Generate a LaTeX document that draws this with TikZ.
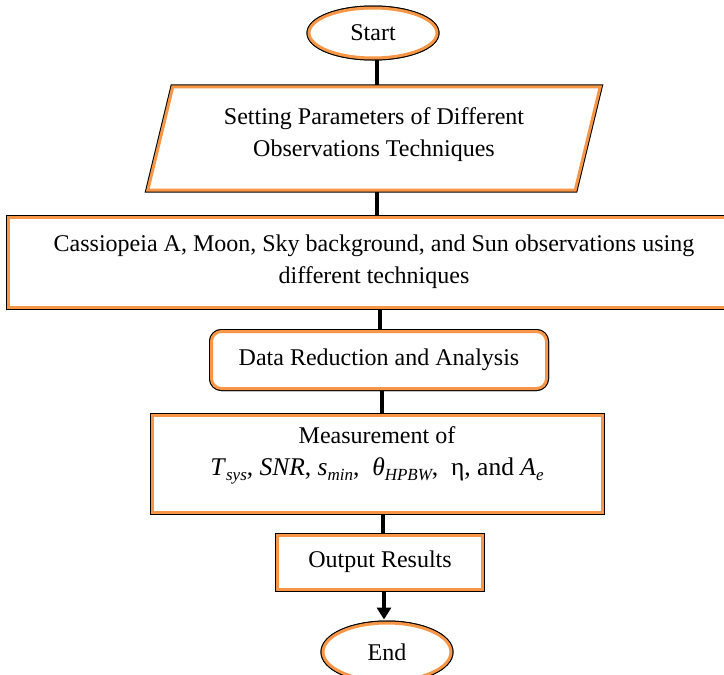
\documentclass[tikz,border=0pt]{standalone}
\usepackage{fontspec}
\setmainfont{Liberation Serif}
\usetikzlibrary{shapes.geometric,arrows.meta}
\definecolor{boxorange}{HTML}{F79646}
\newcommand{\mysub}[1]{\raisebox{-0.22em}{\fontsize{17}{17}\selectfont\itshape #1}}
\tikzset{
  frame/.style={fill=white, draw=boxorange, line width=3pt,
    preaction={draw=black, line width=5pt}},
  boxtext/.style={align=center, inner sep=0pt,
    font=\fontsize{24}{32}\selectfont},
  flowbox/.style={frame, boxtext, rectangle},
  roundbox/.style={frame, boxtext, rectangle, rounded corners=10pt},
  termbox/.style={frame, boxtext, ellipse},
  link/.style={draw=black, line width=3.6pt},
  arrowlink/.style={link, -{Triangle[length=12pt,width=14pt]}}
}
\begin{document}
\begin{tikzpicture}[x=1pt,y=-1pt]
\useasboundingbox (0,0) rectangle (724,675);
% placement nodes
\node[termbox, minimum width=128pt, minimum height=50pt] (start) at (373,33) {Start};
\node[boxtext, minimum width=452pt, minimum height=103pt] (par) at (374,138.5) {};
\node[flowbox, minimum width=732pt, minimum height=90pt] (obs) at (374,262) {};
\node[roundbox, minimum width=335pt, minimum height=57pt] (data) at (379,360) {};
\node[flowbox, minimum width=450pt, minimum height=97pt] (meas) at (377,463.5) {};
\node[flowbox, minimum width=205pt, minimum height=54pt] (out) at (380,562) {};
\node[termbox, minimum width=128pt, minimum height=58pt] (end) at (387,652) {};
% connectors
\draw[link] ([xshift=4pt]start.south) -- ([xshift=4pt]start.south |- par.north);
\draw[link] (377,190) coordinate (p1) -- (p1 |- obs.north);
\draw[link] ([xshift=6pt]obs.south) -- ([xshift=6pt]obs.south |- data.north);
\draw[link] ([xshift=3pt]data.south) -- ([xshift=3pt]data.south |- meas.north);
\draw[link] ([xshift=6pt]meas.south) -- ([xshift=6pt]meas.south |- out.north);
% boxes on top
\draw[frame] ([xshift=25pt]par.north west) -- (par.north east) -- ([xshift=-25pt]par.south east) -- (par.south west) -- cycle;
\node[termbox, minimum width=128pt, minimum height=50pt] at (start) {Start};
\node[flowbox, minimum width=732pt, minimum height=90pt] at (obs) {Cassiopeia A, Moon, Sky background, and Sun observations using\\ different techniques};
\node[boxtext] at ([yshift=4pt]par) {Setting Parameters of Different\\ Observations Techniques};
\node[roundbox, minimum width=335pt, minimum height=57pt] at (data) {Data Reduction and Analysis};
\node[flowbox, minimum width=450pt, minimum height=97pt] at (meas) {};
\node[boxtext] at ([yshift=8pt]meas) {Measurement of\\ \fontsize{25.5}{32}\selectfont\textit{T}\mysub{sys}, \textit{SNR}, \textit{s}\mysub{min},~~\textit{θ}\mysub{HPBW},~~η, and \textit{A}\mysub{e}};
\node[flowbox, minimum width=205pt, minimum height=54pt] at (out) {Output Results};
\node[termbox, minimum width=128pt, minimum height=58pt] at (end) {End};
\draw[arrowlink] ([xshift=4pt]out.south) -- ([xshift=4pt,yshift=2pt]out.south |- end.north);
\end{tikzpicture}
\end{document}
